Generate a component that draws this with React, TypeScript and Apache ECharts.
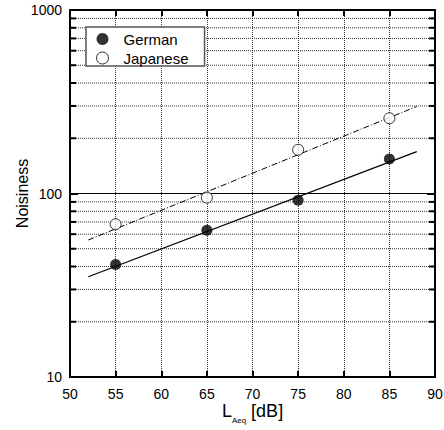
import React, { useEffect, useRef } from 'react';
import * as echarts from 'echarts';

const levels = [55, 65, 75, 85];
const german = [41, 63, 92, 154];
const japanese = [68, 95, 173, 257];
const fitX = [52, 88];
const germanFit = [35.2, 169];
const japaneseFit = [55.8, 298];
const minorGrid = [20, 30, 40, 50, 60, 70, 80, 90, 200, 300, 400, 500, 600, 700, 800, 900];

const FONT = '"Liberation Sans", Arial, sans-serif';

export default function App() {
  const ref = useRef<HTMLDivElement>(null);
  useEffect(() => {
    const chart = echarts.init(ref.current!, null, { renderer: 'svg' });
    const axisLine = { show: true, onZero: false, lineStyle: { color: '#000', width: 2 } };
    const option: any = {
      animation: false,
      backgroundColor: '#fff',
      grid: { left: 70, right: 9, top: 10, bottom: 53, containLabel: false, outerBoundsMode: 'none' },
      legend: {
        orient: 'vertical',
        left: 86,
        top: 27,
        padding: [4, 16, 0, 10],
        itemGap: 3,
        itemWidth: 32,
        itemHeight: 12,
        backgroundColor: '#fff',
        borderColor: '#555',
        borderWidth: 1.5,
        borderRadius: 0,
        textStyle: { fontFamily: FONT, fontSize: 15, color: '#000', lineHeight: 16 },
        data: [
          { name: 'German', icon: 'circle', itemStyle: { color: '#000' } },
          { name: 'Japanese', icon: 'circle', itemStyle: { color: '#fff', borderColor: '#000', borderWidth: 1 } },
        ],
      },
      xAxis: [
        {
          type: 'value', min: 50, max: 90, interval: 5, position: 'bottom',
          axisLine,
          axisTick: { show: true, inside: true, length: 6, lineStyle: { color: '#000', width: 2 } },
          axisLabel: { show: true, margin: 10, fontFamily: FONT, fontSize: 14, color: '#000' },
          splitLine: { show: true, lineStyle: { color: '#333', width: 1, type: [1, 1] } },
          name: '{a|L}{b|Aeq}{a| [dB]}',
          nameLocation: 'middle',
          nameGap: 21,
          nameMoveOverlap: false,
          nameTextStyle: {
            rich: {
              a: { fontFamily: FONT, fontSize: 18, color: '#000', lineHeight: 26 },
              b: { fontFamily: FONT, fontSize: 8, color: '#000', lineHeight: 9, verticalAlign: 'bottom' },
            },
          },
        },
        {
          type: 'value', min: 50, max: 90, interval: 5, position: 'top',
          axisLine,
          axisTick: { show: true, inside: true, length: 6, lineStyle: { color: '#000', width: 2 } },
          axisLabel: { show: false },
          splitLine: { show: false },
        },
      ],
      yAxis: [
        {
          type: 'log', logBase: 10, min: 10, max: 1000, position: 'left',
          axisLine,
          axisTick: { show: true, inside: true, length: 8, lineStyle: { color: '#000', width: 2 } },
          axisLabel: { show: true, margin: 8, fontFamily: FONT, fontSize: 14, color: '#000', formatter: (v: number) => String(Math.round(v)) },
          splitLine: { show: true, lineStyle: { color: '#000', width: 1, type: 'solid' } },
          name: 'Noisiness',
          nameLocation: 'middle',
          nameGap: 40,
          nameMoveOverlap: false,
          nameTextStyle: { fontFamily: FONT, fontSize: 16, color: '#000' },
        },
        {
          type: 'log', logBase: 10, min: 10, max: 1000, position: 'right',
          axisLine,
          axisTick: { show: true, inside: true, length: 8, lineStyle: { color: '#000', width: 2 } },
          axisLabel: { show: false },
          splitLine: { show: false },
        },
      ],
      series: [
        {
          type: 'custom',
          name: 'minor',
          silent: true,
          z: 1,
          clip: false,
          xAxisIndex: 0,
          yAxisIndex: 0,
          data: minorGrid.map((v) => [50, v]),
          renderItem: (params: any, api: any) => {
            const cs = params.coordSys;
            const y = api.coord([50, api.value(1)])[1];
            return {
              type: 'group',
              children: [
                { type: 'line', shape: { x1: cs.x, y1: y, x2: cs.x + cs.width, y2: y }, style: { stroke: '#333', lineWidth: 1, lineDash: [1, 1] } },
                { type: 'line', shape: { x1: cs.x, y1: y, x2: cs.x + 6, y2: y }, style: { stroke: '#000', lineWidth: 2 } },
                { type: 'line', shape: { x1: cs.x + cs.width - 6, y1: y, x2: cs.x + cs.width, y2: y }, style: { stroke: '#000', lineWidth: 2 } },
              ],
            };
          },
        },
        {
          type: 'line', name: 'German fit', showSymbol: false, symbol: 'none', z: 3,
          data: fitX.map((x, i) => [x, germanFit[i]]),
          lineStyle: { color: '#000', width: 1.2, type: 'solid' },
        },
        {
          type: 'line', name: 'Japanese fit', showSymbol: false, symbol: 'none', z: 3,
          data: fitX.map((x, i) => [x, japaneseFit[i]]),
          lineStyle: { color: '#000', width: 1, type: [6, 2, 1, 2] },
        },
        {
          type: 'scatter', name: 'German', symbol: 'circle', symbolSize: 11, z: 5,
          data: levels.map((x, i) => [x, german[i]]),
          itemStyle: { color: '#000' },
        },
        {
          type: 'scatter', name: 'Japanese', symbol: 'circle', symbolSize: 11, z: 5,
          data: levels.map((x, i) => [x, japanese[i]]),
          itemStyle: { color: '#fff', borderColor: '#000', borderWidth: 1 },
        },
      ],
    };
    chart.setOption(option);
    return () => chart.dispose();
  }, []);
  return <div ref={ref} style={{ position: 'absolute', left: 0, top: 0, width: 444, height: 430 }} />;
}
